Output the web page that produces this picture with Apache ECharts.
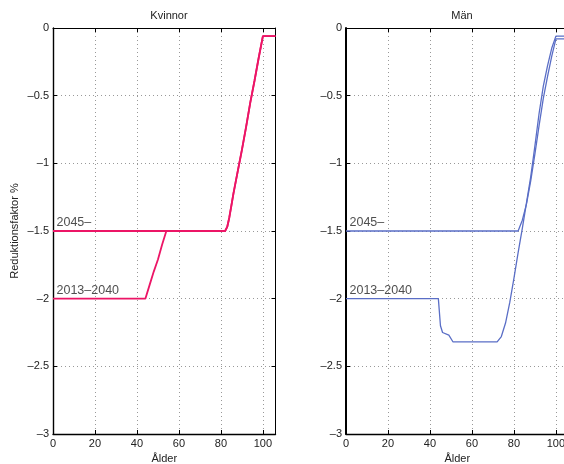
<!DOCTYPE html>
<html>
<head>
<meta charset="utf-8">
<script src="https://cdn.jsdelivr.net/npm/echarts@6/dist/echarts.min.js"></script>
<style>html,body{margin:0;padding:0;background:#fff}#c{width:564px;height:464px}</style>
</head>
<body>
<div id="c"></div>
<script>
// ---- data ----
var panelTitles = ['Kvinnor', 'Män'];
var xTicks = [0, 20, 40, 60, 80, 100];
var yTicks = [0, -0.5, -1, -1.5, -2, -2.5, -3];
var seriesNames = ['2013–2040', '2045–'];

var kv2013Age = [0, 44, 46, 48, 50, 52, 54, 82, 83, 84, 85, 86, 88, 90, 92, 94, 96, 98, 100, 106];
var kv2013Val = [-2, -2, -1.9, -1.8, -1.71, -1.6, -1.5, -1.5, -1.47, -1.4, -1.31, -1.22, -1.06, -0.9, -0.73, -0.55, -0.39, -0.22, -0.06, -0.06];
var kv2045Age = [0, 82, 83, 84, 85, 86, 88, 90, 92, 94, 96, 98, 100, 106];
var kv2045Val = [-1.5, -1.5, -1.47, -1.4, -1.31, -1.22, -1.06, -0.9, -0.73, -0.55, -0.39, -0.22, -0.06, -0.06];

var man2013Age = [0, 44, 45, 46, 49, 51, 72, 74, 76, 78, 80, 82, 84, 86, 88, 90, 92, 94, 96, 98, 100, 106];
var man2013Val = [-2, -2, -2.2, -2.25, -2.27, -2.32, -2.32, -2.28, -2.18, -2.03, -1.85, -1.66, -1.48, -1.29, -1.1, -0.87, -0.63, -0.43, -0.28, -0.15, -0.06, -0.06];
var man2045Age = [0, 82, 84, 86, 88, 90, 92, 94, 96, 98, 100, 106];
var man2045Val = [-1.5, -1.5, -1.42, -1.3, -1.13, -0.93, -0.72, -0.52, -0.36, -0.21, -0.08, -0.08];

var labelTexts = ['2045–', '2013–2040'];
var labelAge = [0, 0];
var labelVal = [-1.5, -2];

var xMin = 0, xMax = 106, yMin = -3, yMax = 0;

// ---- build ----
function pairs(a, v) { return a.map(function (x, i) { return [x, v[i]]; }); }
var FONT = 'Liberation Sans, Arial, sans-serif';
var colors = ['#EC1566', '#5A6EC6'];
var grids = [
  { left: 53, top: 28, width: 222.5, height: 406, outerBoundsMode: 'none', containLabel: false },
  { left: 346, top: 28, width: 222.5, height: 406, outerBoundsMode: 'none', containLabel: false }
];
var fmt = function (v) { return String(v).replace('-', '–'); };

var xAxes = [], yAxes = [], series = [], titles = [];
grids.forEach(function (g, p) {
  var axisLineW = p === 0 ? 1.4 : 2;
  xAxes.push({
    type: 'value', gridIndex: p, min: xMin, max: xMax, interval: 20, position: 'bottom',
    axisLine: { show: true, onZero: false, lineStyle: { color: '#000', width: 1.4 } },
    axisTick: { show: true, inside: true, length: 4, lineStyle: { color: '#000' } },
    axisLabel: { color: '#222', fontFamily: FONT, fontSize: 11, margin: 4, showMaxLabel: false,
      formatter: function (v) { return xTicks.indexOf(v) >= 0 ? fmt(v) : ''; } },
    splitLine: { show: true, lineStyle: { color: '#999', type: [1, 3], width: 1 } },
    name: 'Ålder', nameLocation: 'middle', nameGap: 16,
    nameTextStyle: { color: '#222', fontFamily: FONT, fontSize: 11 }
  });
  xAxes.push({
    type: 'value', gridIndex: p, min: xMin, max: xMax, interval: 20, position: 'top',
    axisLine: { show: true, onZero: false, lineStyle: { color: '#000', width: 1 } },
    axisTick: { show: true, inside: true, length: 4, lineStyle: { color: '#000' } },
    axisLabel: { show: false }, splitLine: { show: false }
  });
  yAxes.push({
    type: 'value', gridIndex: p, min: yMin, max: yMax, interval: 0.5, position: 'left',
    axisLine: { show: true, onZero: false, lineStyle: { color: '#000', width: axisLineW } },
    axisTick: { show: true, inside: true, length: 4, lineStyle: { color: '#000' } },
    axisLabel: { color: '#222', fontFamily: FONT, fontSize: 11, margin: 4,
      formatter: function (v) { return yTicks.indexOf(v) >= 0 ? fmt(v) : ''; } },
    splitLine: { show: true, lineStyle: { color: '#999', type: [1, 3], width: 1 } },
    name: p === 0 ? 'Reduktionsfaktor %' : '', nameLocation: 'middle', nameGap: 33,
    nameTextStyle: { color: '#222', fontFamily: FONT, fontSize: 11 }
  });
  yAxes.push({
    type: 'value', gridIndex: p, min: yMin, max: yMax, interval: 0.5, position: 'right',
    axisLine: { show: true, onZero: false, lineStyle: { color: '#000', width: 1 } },
    axisTick: { show: true, inside: true, length: 4, lineStyle: { color: '#000' } },
    axisLabel: { show: false }, splitLine: { show: false }
  });
  titles.push({
    text: panelTitles[p], left: p === 0 ? 164 : 457, top: 5, textAlign: 'center',
    textStyle: { color: '#222', fontFamily: FONT, fontSize: 11, fontWeight: 'normal' }
  });
});

var lineSets = [
  [pairs(kv2013Age, kv2013Val), pairs(kv2045Age, kv2045Val)],
  [pairs(man2013Age, man2013Val), pairs(man2045Age, man2045Val)]
];
lineSets.forEach(function (set, p) {
  set.forEach(function (d, k) {
    series.push({
      type: 'line', name: seriesNames[k] + ' ' + panelTitles[p], xAxisIndex: p * 2, yAxisIndex: p * 2,
      data: d, showSymbol: false, symbol: 'none', animation: false,
      lineStyle: { color: colors[p], width: p === 0 ? 1.8 : 1.3 }
    });
  });
  series.push({
    type: 'scatter', xAxisIndex: p * 2, yAxisIndex: p * 2, symbolSize: 1, animation: false,
    itemStyle: { color: 'rgba(0,0,0,0)' }, silent: true, z: 5,
    data: labelTexts.map(function (t, i) { return { value: [labelAge[i], labelVal[i]], name: t }; }),
    label: { show: true, formatter: '{b}', position: [4, -1], align: 'left', verticalAlign: 'bottom',
      color: '#222', fontFamily: FONT, fontSize: 12.5 }
  });
});

var chart = echarts.init(document.getElementById('c'), null, { renderer: 'canvas' });
chart.setOption({
  backgroundColor: '#fff',
  animation: false,
  title: titles,
  grid: grids,
  xAxis: xAxes,
  yAxis: yAxes,
  series: series
});
</script>
</body>
</html>
